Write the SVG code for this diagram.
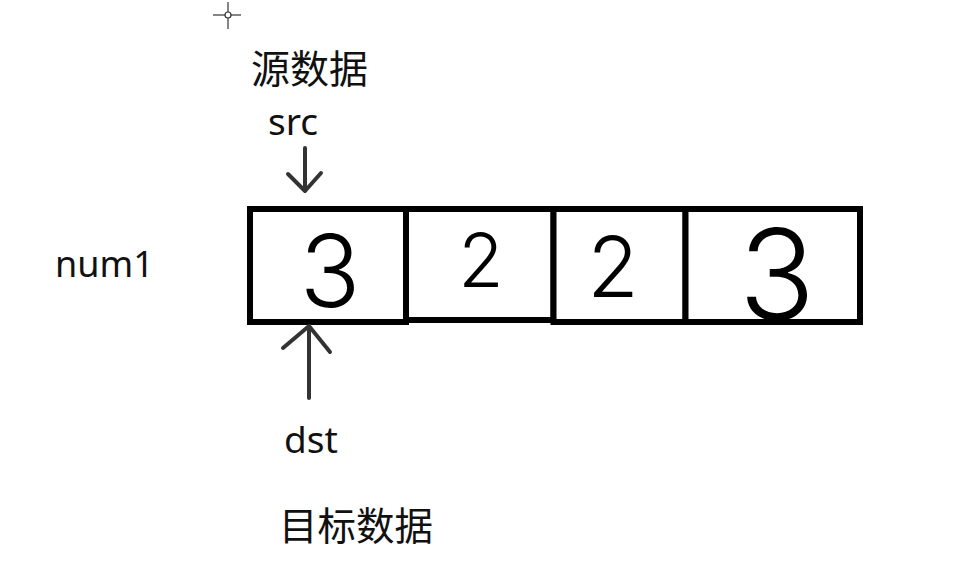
<svg xmlns="http://www.w3.org/2000/svg" width="967" height="577" viewBox="0 0 967 577">
<style>
.lbl{font-family:"Noto Sans","Noto Sans CJK SC",sans-serif;fill:#111;}
.cjk{font-family:"Noto Sans CJK SC","Noto Sans",sans-serif;fill:#111;}
.dig{font-family:Inter,"Noto Sans",sans-serif;font-weight:300;fill:#000;text-anchor:middle;}
.box{fill:#fff;stroke:#000;stroke-width:6;}
.arr{fill:none;stroke:#333;stroke-width:4;stroke-linecap:round;stroke-linejoin:round;}
</style>
<rect width="967" height="577" fill="#fff"/>
<g id="cursor" stroke="#333" stroke-width="1.2" fill="none">
<line x1="213" y1="15" x2="241" y2="15"/><line x1="228" y1="2" x2="228" y2="29"/><circle cx="228" cy="15" r="3" fill="#fff"/>
</g>
<g id="label-src-cn"><text class="cjk" x="251" y="83" font-size="39">源数据</text></g>
<g id="label-src"><text class="lbl" x="268" y="135" font-size="37">src</text></g>
<g id="label-num1"><text class="lbl" x="55" y="277" font-size="36">num1</text></g>
<g id="label-dst"><text class="lbl" x="284" y="453" font-size="37">dst</text></g>
<g id="label-dst-cn"><text class="cjk" x="279" y="540" font-size="38.5">目标数据</text></g>
<g id="array">
<g id="cell1"><rect class="box" x="250" y="209" width="156" height="113"/><text class="dig" x="330" y="307" font-size="100">3</text></g>
<g id="cell2"><rect class="box" x="406" y="209" width="147.5" height="111"/><text class="dig" x="481" y="287" font-size="74">2</text></g>
<g id="cell3"><rect class="box" x="553.5" y="209" width="132" height="113"/><text class="dig" x="613" y="297" font-size="84">2</text></g>
<g id="cell4"><rect class="box" x="685.5" y="209" width="174.5" height="113"/><text class="dig" x="777" y="320" font-size="126">3</text></g>
</g>
<g id="connectors">
<path class="arr" d="M305 148 L305 191 M288 174 L305 191 L321 173"/>
<path class="arr" d="M309 398 L309 326 M283 348 L309 326 L330 352"/>
</g>
</svg>
